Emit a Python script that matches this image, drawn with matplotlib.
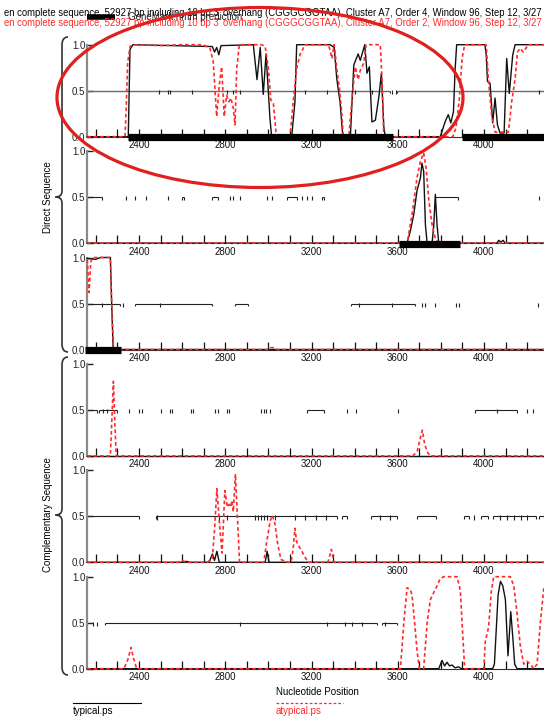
import matplotlib
matplotlib.use('Agg')
import matplotlib.pyplot as plt
from matplotlib.patches import Ellipse, PathPatch
from matplotlib.path import Path
from matplotlib.lines import Line2D
from matplotlib.ticker import MultipleLocator, FuncFormatter

plt.rcParams['font.family'] = ['Liberation Sans', 'DejaVu Sans']

# ---------------- data ----------------
header_typ = ("en complete sequence, 52927 bp including 10 bp 3' overhang (CGGGCGGTAA), "
              "Cluster A7, Order 4, Window 96, Step 12, 3/27")
header_atyp = ("en complete sequence, 52927 bp including 10 bp 3' overhang (CGGGCGGTAA), "
               "Cluster A7, Order 2, Window 96, Step 12, 3/27")
legend_gene = "GeneMark.hmm prediction"
group_labels = ["Direct Sequence", "Complementary Sequence"]
x_title = "Nucleotide Position"
typ_name = "typical.ps"
atyp_name = "atypical.ps"
y_ticks = [0.0, 0.5, 1.0]
y_tick_labels = ["0.0", "0.5", "1.0"]
x_label_values = [2400, 2800, 3200, 3600, 4000]
x_range = [2160, 4278]

# Panel 1 (direct, frame 1)
p1_typ_x = [2160, 2350, 2358, 2372, 2740, 2750, 2760, 2770, 2780, 2930, 2947, 2962, 2976, 2989,
            3007, 3015, 3108, 3123, 3131, 3286, 3305, 3317, 3332, 3345, 3380, 3396, 3416, 3426,
            3447, 3457, 3468, 3480, 3496, 3512, 3524, 3535, 3542, 3797, 3804, 3819, 3834, 3846,
            3858, 3866, 3873, 4004, 4010, 4016, 4028, 4040, 4051, 4062, 4074, 4093, 4105, 4117,
            4133, 4144, 4278]
p1_typ_y = [0, 0, 0.95, 1.0, 0.98, 0.92, 0.97, 0.89, 0.99, 1.0, 0.62, 0.97, 0.46, 0.9,
            0.2, 0, 0, 0.38, 1.0, 1.0, 0.97, 0.63, 0.38, 0, 0, 0.78, 0.9, 0.83,
            1.0, 0.69, 0.76, 0.16, 0.18, 0.43, 0.69, 0.11, 0, 0, 0.05, 0.16, 0.24, 0.15,
            0.27, 0.74, 1.0, 1.0, 0.89, 0.6, 0.58, 0.15, 0.42, 0.13, 0.04, 0.04, 0.85, 0.47,
            0.89, 1.0, 1.0]
p1_atyp_x = [2160, 2335, 2340, 2347, 2358, 2372, 2500, 2600, 2697, 2729, 2744, 2760, 2772, 2783,
             2795, 2806, 2817, 2826, 2837, 2845, 2853, 2865, 2969, 2985, 3000, 3011, 3023, 3035,
             3046, 3100, 3115, 3131, 3146, 3170, 3278, 3286, 3294, 3305, 3317, 3329, 3340, 3347,
             3373, 3388, 3403, 3416, 3426, 3442, 3453, 3519, 3527, 3535, 3855, 3870, 3885, 3898,
             3910, 4010, 4020, 4035, 4051, 4113, 4128, 4144, 4155, 4167, 4182, 4205, 4278]
p1_atyp_y = [0, 0, 0.29, 0.8, 0.98, 1.0, 0.99, 1.0, 1.0, 0.96, 0.82, 0.22, 0.56, 0.76,
             0.22, 0.45, 0.38, 0.42, 0.31, 0.13, 0.74, 1.0, 1.0, 0.98, 0.74, 0.4, 0.36, 0.05,
             0, 0, 0.38, 0.74, 0.89, 1.0, 1.0, 0.94, 0.85, 1.0, 0.74, 0.53, 0.27, 0,
             0, 0.43, 0.76, 0.62, 0.72, 0.8, 1.0, 1.0, 0.6, 0, 0, 0.1, 0.4, 0.85,
             1.0, 1.0, 0.63, 0.24, 0.05, 0.05, 0.38, 0.63, 0.92, 0.96, 0.92, 1.0, 1.0]
p1_orf_start = [2160, 3598]
p1_orf_end = [3565, 4278]
p1_orf_marks = [2493, 2535, 2544, 2646, 2808, 2836, 2869, 3171, 3273, 3402, 3481, 3574, 3590, 4255]
p1_gene_start = [2350, 3898]
p1_gene_end = [3576, 4300]

# Panel 2 (direct, frame 2)
p2_typ_x = [2160, 3643, 3658, 3674, 3689, 3705, 3712, 3720, 3728, 3736, 3759, 3767, 3774, 3782,
            3790, 4060, 4068, 4078, 4088, 4098, 4278]
p2_typ_y = [0, 0, 0.13, 0.31, 0.57, 0.71, 0.87, 0.78, 0.2, 0, 0, 0.2, 0.53, 0.2,
            0, 0, 0.03, 0.01, 0.03, 0, 0]
p2_atyp_x = [2160, 3643, 3666, 3689, 3705, 3720, 3731, 3744, 3759, 3774, 3790, 4278]
p2_atyp_y = [0, 0, 0.31, 0.71, 0.89, 0.98, 0.82, 0.46, 0.2, 0.05, 0, 0]
p2_orf_start = [2160, 2598, 2740, 3086, 3248, 3774]
p2_orf_end = [2227, 2609, 2768, 3132, 3256, 3879]
p2_orf_marks = [2340, 2382, 2431, 2533, 2822, 2837, 2869, 2992, 3016, 3155, 3178, 3202, 4254]
p2_gene_start = [3604]
p2_gene_end = [3887]

# Panel 3 (direct, frame 3)
p3_typ_x = [2160, 2198, 2222, 2267, 2273, 2280, 4278]
p3_typ_y = [0.99, 0.98, 1.0, 1.0, 0.5, 0, 0]
p3_atyp_x = [2160, 2168, 2176, 2185, 2267, 2273, 2282, 3000, 3010, 3030, 3040, 4278]
p3_atyp_y = [0.98, 0.62, 0.95, 1.0, 1.0, 0.5, 0, 0, 0.02, 0.02, 0, 0]
p3_orf_start = [2160, 2383, 2843, 3381]
p3_orf_end = [2310, 2740, 2906, 3678]
p3_orf_marks = [2230, 2326, 2495, 3421, 3574, 3711, 3727, 3772, 3868, 3884, 4249]
p3_gene_start = [2150]
p3_gene_end = [2318]

# Panel 4 (complementary, frame 1)
p4_typ_x = [2160, 4278]
p4_typ_y = [0, 0]
p4_atyp_x = [2160, 2267, 2274, 2281, 2288, 2294, 3670, 3690, 3700, 3714, 3725, 3740, 3751, 4278]
p4_atyp_y = [0, 0, 0.4, 0.81, 0.35, 0, 0, 0.05, 0.15, 0.28, 0.12, 0.03, 0, 0]
p4_orf_start = [2160, 2214, 3180, 3960]
p4_orf_end = [2205, 2299, 3260, 4153]
p4_orf_marks = [2235, 2252, 2355, 2399, 2415, 2500, 2544, 2555, 2640, 2648, 2753, 2765, 2809,
                2817, 2965, 2978, 2991, 3007, 3365, 3405, 3602, 4060, 4201, 4225]
p4_gene_start = []
p4_gene_end = []

# Panel 5 (complementary, frame 2)
p5_typ_x = [2160, 2600, 2620, 2640, 2725, 2740, 2750, 2761, 2772, 2985, 2994, 3003, 4278]
p5_typ_y = [0, 0, 0.01, 0, 0, 0.09, 0.02, 0.12, 0, 0, 0.12, 0, 0]
p5_atyp_x = [2160, 2580, 2600, 2620, 2718, 2740, 2750, 2761, 2772, 2785, 2798, 2809, 2817, 2825,
             2830, 2837, 2847, 2856, 2866, 2978, 2994, 3008, 3018, 3030, 3043, 3058, 3091, 3105,
             3115, 3123, 3131, 3140, 3155, 3171, 3186, 3276, 3292, 3304, 4278]
p5_atyp_y = [0, 0, 0.02, 0, 0, 0.05, 0.35, 0.8, 0.45, 0.1, 0.78, 0.6, 0.63, 0.6,
             0.67, 0.55, 0.96, 0.5, 0, 0, 0.25, 0.45, 0.51, 0.42, 0.2, 0.03, 0, 0,
             0.15, 0.37, 0.22, 0.18, 0.12, 0.05, 0, 0, 0.14, 0, 0]
p5_orf_start = [2160, 2479, 3340, 3477, 3687, 3909, 3984, 4040, 4257]
p5_orf_end = [2398, 3316, 3364, 3598, 3775, 3928, 4016, 4241, 4278]
p5_orf_marks = [2484, 2773, 2806, 2937, 2950, 2965, 2978, 2994, 3030, 3123, 3171, 3220, 3268,
                3517, 3565, 3952, 4073, 4105, 4137, 4170, 4201]
p5_gene_start = []
p5_gene_end = []

# Panel 6 (complementary, frame 3)
p6_typ_x = [2160, 3790, 3805, 3817, 3828, 3840, 3852, 3865, 3882, 3895, 4040, 4048, 4056, 4065,
            4076, 4087, 4099, 4111, 4124, 4133, 4142, 4153, 4278]
p6_typ_y = [0, 0, 0.09, 0.03, 0.07, 0.03, 0.04, 0.01, 0.02, 0, 0, 0.05, 0.4, 0.8,
            0.95, 0.9, 0.75, 0.14, 0.62, 0.35, 0.05, 0, 0]
p6_atyp_x = [2160, 2330, 2348, 2363, 2376, 2389, 3612, 3628, 3643, 3658, 3666, 3678, 3689, 3700,
             3720, 3736, 3751, 3767, 3782, 3797, 3813, 3875, 3890, 3898, 3910, 3999, 4006, 4021,
             4034, 4045, 4122, 4138, 4153, 4168, 4184, 4199, 4215, 4230, 4246, 4261, 4278]
p6_atyp_y = [0, 0, 0.1, 0.23, 0.1, 0, 0, 0.5, 0.88, 0.86, 0.8, 0.5, 0.2, 0,
             0, 0.5, 0.75, 0.83, 0.9, 0.98, 1.0, 1.0, 0.85, 0.5, 0, 0, 0.3, 0.45,
             0.85, 1.0, 1.0, 0.9, 0.6, 0.25, 0.05, 0.08, 0.05, 0, 0.05, 0.5, 0.9]
p6_orf_start = [2242, 3527]
p6_orf_end = [3505, 3597]
p6_orf_marks = [2185, 2203, 2869, 3272, 3354, 3388, 3434, 3540]
p6_gene_start = []
p6_gene_end = []

panels = [
    (p1_typ_x, p1_typ_y, p1_atyp_x, p1_atyp_y, p1_orf_start, p1_orf_end, p1_orf_marks, p1_gene_start, p1_gene_end),
    (p2_typ_x, p2_typ_y, p2_atyp_x, p2_atyp_y, p2_orf_start, p2_orf_end, p2_orf_marks, p2_gene_start, p2_gene_end),
    (p3_typ_x, p3_typ_y, p3_atyp_x, p3_atyp_y, p3_orf_start, p3_orf_end, p3_orf_marks, p3_gene_start, p3_gene_end),
    (p4_typ_x, p4_typ_y, p4_atyp_x, p4_atyp_y, p4_orf_start, p4_orf_end, p4_orf_marks, p4_gene_start, p4_gene_end),
    (p5_typ_x, p5_typ_y, p5_atyp_x, p5_atyp_y, p5_orf_start, p5_orf_end, p5_orf_marks, p5_gene_start, p5_gene_end),
    (p6_typ_x, p6_typ_y, p6_atyp_x, p6_atyp_y, p6_orf_start, p6_orf_end, p6_orf_marks, p6_gene_start, p6_gene_end),
]

# ---------------- layout ----------------
W, H = 544, 717
fig = plt.figure(figsize=(W / 100, H / 100), dpi=100)


def fx(x):
    return x / W


def fy(y):
    return 1 - y / H


RED = '#ff2b2b'
FS = 7
left_px, top0, pitch, ph = 87.3, 44.7, 106.4, 92.0


def xfmt(v, pos):
    iv = int(round(v))
    return str(iv) if iv in x_label_values else ''


for i, (tx, ty, ax_, ay, os_, oe, om, gs, ge) in enumerate(panels):
    top = top0 + pitch * i
    ax = fig.add_axes([fx(left_px), fy(top + ph), fx(W - left_px) + 0.02, ph / H])
    ax.set_xlim(x_range[0], x_range[1] + (x_range[1] - x_range[0]) * 0.02 / (fx(W - left_px)))
    ax.set_ylim(0, 1)
    ax.patch.set_alpha(0)
    for s in ('top', 'right'):
        ax.spines[s].set_visible(False)
    ax.spines['left'].set_color('#8a8a8a')
    ax.spines['left'].set_linewidth(1.6)
    ax.spines['bottom'].set_color('#333333')
    ax.spines['bottom'].set_linewidth(0.8)
    ax.set_yticks(y_ticks)
    ax.set_yticklabels(y_tick_labels)
    ax.tick_params(axis='y', direction='in', length=4, width=1, labelsize=FS, pad=1.5, colors='#222222')
    ax.xaxis.set_major_locator(MultipleLocator(100))
    ax.xaxis.set_major_formatter(FuncFormatter(xfmt))
    ax.tick_params(axis='x', direction='in', length=6, width=0.9, labelsize=FS, pad=2.5, colors='#111111')

    # ORF lines at 0.5
    orf_col = '#6a6a6a' if i == 0 else '#222222'
    ax.hlines([0.5] * len(os_), os_, oe, color=orf_col, lw=1.0 if i == 0 else 0.8, clip_on=False)
    ax.vlines(os_, 0.47, 0.5, color='#222222', lw=0.8)
    ax.vlines(oe, 0.47, 0.5, color='#222222', lw=0.8)
    ax.vlines(om, 0.465, 0.51, color='#222222', lw=0.8)

    # curves
    ax.plot(tx, ty, color='#111111', lw=1.0, clip_on=False, zorder=3)
    ax.plot(ax_, ay, color=RED, lw=1.2, ls=(0, (2.2, 1.6)), clip_on=False, zorder=4)

    # GeneMark.hmm predictions
    for s, e in zip(gs, ge):
        ax.plot([s, e], [-0.008, -0.008], color='black', lw=5.2, solid_capstyle='butt',
                clip_on=False, zorder=5)

# header
fig.text(fx(3.5), fy(12.8), header_typ, fontsize=6.85, color='black', va='center', ha='left')
fig.text(fx(3.5), fy(23.2), header_atyp, fontsize=6.85, color=RED, va='center', ha='left')
fig.add_artist(Line2D([fx(86.7), fx(114.5)], [fy(16.5), fy(16.5)], color='black', lw=4,
                      solid_capstyle='butt', transform=fig.transFigure))
fig.text(fx(128), fy(17.3), legend_gene, fontsize=FS, color='#222222', va='center', ha='left')

# braces


def brace(top, bot, mid, xv=62.0, xe=68.0, xt=55.5):
    pts = [(xe, top), (xv, top), (xv, top + 8), (xv, mid - 6), (xv, mid), (xt, mid),
           (xv, mid), (xv, mid + 6), (xv, bot - 8), (xv, bot), (xe, bot)]
    codes = [Path.MOVETO, Path.CURVE3, Path.CURVE3, Path.LINETO, Path.CURVE3, Path.CURVE3,
             Path.CURVE3, Path.CURVE3, Path.LINETO, Path.CURVE3, Path.CURVE3]
    verts = [(fx(x), fy(y)) for x, y in pts]
    fig.add_artist(PathPatch(Path(verts, codes), fill=False, lw=1.2, edgecolor='#333333',
                             transform=fig.transFigure))


brace(37, 352, 197)
brace(357, 675, 515)
fig.text(fx(48), fy(197), group_labels[0], rotation=90, fontsize=FS, ha='center', va='center')
fig.text(fx(48), fy(515), group_labels[1], rotation=90, fontsize=FS, ha='center', va='center')

# bottom legend
fig.add_artist(Line2D([fx(73), fx(141)], [fy(702.7), fy(702.7)], color='black', lw=0.8,
                      transform=fig.transFigure))
fig.text(fx(73), fy(710.7), typ_name, fontsize=FS, va='center', ha='left')
fig.text(fx(276), fy(692.3), x_title, fontsize=FS, va='center', ha='left')
fig.add_artist(Line2D([fx(276), fx(343)], [fy(702.7), fy(702.7)], color=RED, lw=0.9,
                      ls=(0, (2.2, 1.6)), transform=fig.transFigure))
fig.text(fx(276), fy(710.7), atyp_name, fontsize=FS, va='center', ha='left', color=RED)

# red annotation ellipse
fig.add_artist(Ellipse((fx(260), fy(97.5)), 406 / W, 180 / H, fill=False, edgecolor='#e0201e',
                       lw=2.3, transform=fig.transFigure, zorder=20))

fig.savefig('out.png', dpi=100)
